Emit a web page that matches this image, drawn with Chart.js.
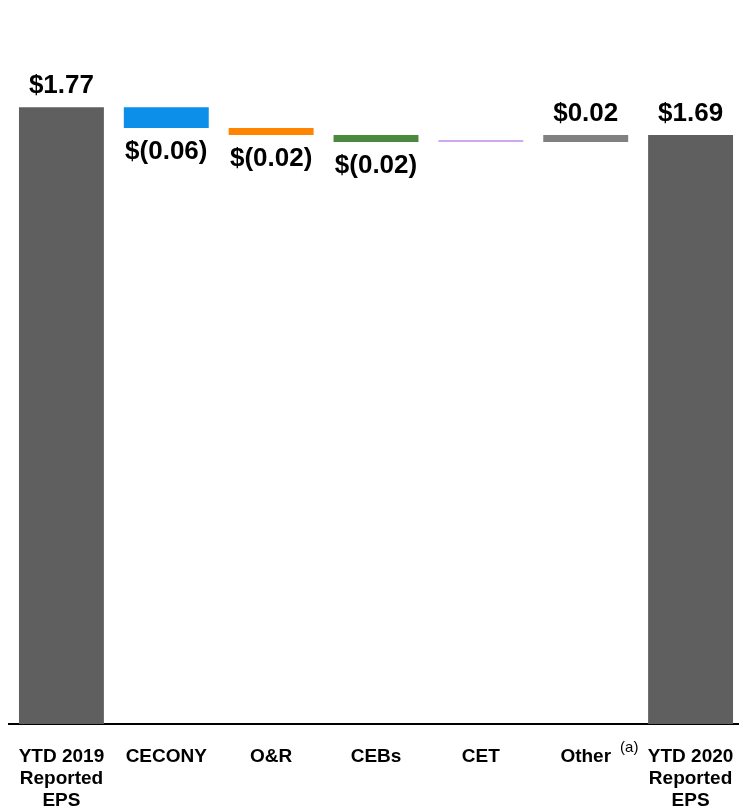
<!DOCTYPE html>
<html>
<head>
<meta charset="utf-8">
<script src="https://cdn.jsdelivr.net/npm/chart.js@4.4.1/dist/chart.umd.min.js"></script>
<style>
  html, body { margin: 0; padding: 0; background: #fff; overflow: hidden; }
  #epsChart { display: block; }
</style>
</head>
<body>
<canvas id="epsChart" width="743" height="808"></canvas>
<script>
const categories = [["YTD 2019", "Reported", "EPS"], "CECONY", "O&R", "CEBs", "CET", "Other", ["YTD 2020", "Reported", "EPS"]];
const changes = [1.77, -0.06, -0.02, -0.02, 0.00, 0.02, 1.69];
const isTotal = [true, false, false, false, false, false, true];
const valueLabels = ["$1.77", "$(0.06)", "$(0.02)", "$(0.02)", "", "$0.02", "$1.69"];
const barColors = ["#5f5f5f", "#0b8fe9", "#ff8400", "#4b8a3e", "#cfa8f0", "#808080", "#5f5f5f"];
const yTicks = [0, 2.0];

// floating ranges for the waterfall
let running = 0;
const ranges = changes.map((v, i) => {
  if (isTotal[i]) { running = v; return [0, v]; }
  const start = running;
  running = Math.round((running + v) * 100) / 100;
  return [Math.min(start, running), Math.max(start, running)];
});

const FONT = "'Liberation Sans', Arial, sans-serif";

const valueLabelPlugin = {
  id: "valueLabels",
  afterDatasetsDraw(chart) {
    const { ctx } = chart;
    const meta = chart.getDatasetMeta(0);
    ctx.save();
    ctx.font = "bold 26px " + FONT;
    ctx.fillStyle = "#000";
    ctx.textAlign = "center";
    meta.data.forEach((bar, i) => {
      if (!valueLabels[i]) return;
      const top = Math.min(bar.y, bar.base);
      const bottom = Math.max(bar.y, bar.base);
      if (changes[i] < 0) {
        ctx.textBaseline = "top";
        ctx.fillText(valueLabels[i], bar.x, bottom + 11);
      } else {
        ctx.textBaseline = "bottom";
        ctx.fillText(valueLabels[i], bar.x, top - 8);
      }
    });
    // footnote marker next to "Other"
    const xs = chart.scales.x;
    ctx.font = "bold 19px " + FONT;
    const w = ctx.measureText("Other").width;
    ctx.font = "15px " + FONT;
    ctx.textAlign = "left";
    ctx.textBaseline = "top";
    ctx.fillText("(a)", xs.getPixelForValue(5) + w / 2 + 9, xs.top + 16);
    ctx.restore();
  }
};

new Chart(document.getElementById("epsChart"), {
  type: "bar",
  data: {
    labels: categories,
    datasets: [{
      data: ranges,
      backgroundColor: barColors,
      borderWidth: 0,
      barPercentage: 0.81,
      categoryPercentage: 1.0,
      minBarLength: 2
    }]
  },
  options: {
    responsive: false,
    animation: false,
    layout: { padding: { top: 27, left: 9, right: 0, bottom: 0 } },
    plugins: {
      legend: { display: false },
      tooltip: { enabled: false }
    },
    scales: {
      x: {
        grid: { display: false, drawTicks: false },
        border: { display: true, color: "#000", width: 2 },
        ticks: {
          color: "#000",
          font: { family: FONT, size: 19, weight: "bold", lineHeight: 1.16 },
          padding: 22,
          maxRotation: 0,
          autoSkip: false
        },
        afterFit(scale) {
          scale.height = 84;
          scale.paddingLeft = 0;
          scale.paddingRight = 0;
        }
      },
      y: {
        display: false,
        min: yTicks[0],
        max: yTicks[1]
      }
    }
  },
  plugins: [valueLabelPlugin]
});
</script>
</body>
</html>
